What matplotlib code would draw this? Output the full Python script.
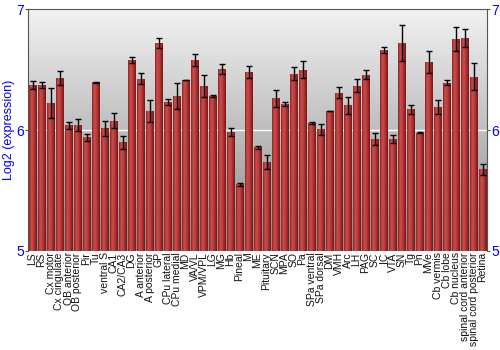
import numpy as np
import matplotlib.pyplot as plt
from matplotlib.colors import LinearSegmentedColormap

plt.rcParams['font.family'] = ['Liberation Sans', 'DejaVu Sans']

regions = ["LS", "RS", "Cx motor", "Cx cingulate", "OB anterior", "OB posterior",
           "Pir", "Tu", "ventral S", "CA1", "CA2/CA3", "DG", "A anterior",
           "A posterior", "GP", "CPu lateral", "CPu medial", "MD", "VA/VL",
           "VPM/VPL", "LG", "MG", "Hb", "Pineal", "M", "ME", "Pituitary", "SCN",
           "MPA", "SO", "Pa", "SPa ventral", "SPa dorsal", "DM", "VMH", "Arc",
           "LH", "PAG", "SC", "IC", "VTA", "SN", "Tg", "Pn", "MVe", "Cb vermis",
           "Cb lobe", "Cb nucleus", "spinal cord anterior",
           "spinal cord posterior", "Retina"]

expr = [6.373, 6.373, 6.221, 6.431, 6.039, 6.039, 5.939, 6.395, 6.014, 6.077,
        5.898, 6.577, 6.423, 6.157, 6.721, 6.229, 6.282, 6.414, 6.580, 6.365,
        6.282, 6.506, 5.981, 5.552, 6.481, 5.856, 5.732, 6.262, 6.215, 6.464,
        6.497, 6.058, 6.006, 6.157, 6.309, 6.204, 6.365, 6.459, 5.925, 6.663,
        5.925, 6.718, 6.171, 5.978, 6.564, 6.190, 6.392, 6.751, 6.762, 6.442,
        5.674]

err = [0.032, 0.022, 0.125, 0.055, 0.030, 0.050, 0.030, 0.004, 0.062, 0.064,
       0.052, 0.026, 0.046, 0.094, 0.044, 0.025, 0.110, 0.003, 0.052, 0.094,
       0.008, 0.039, 0.032, 0.014, 0.050, 0.012, 0.058, 0.073, 0.014, 0.054,
       0.070, 0.012, 0.046, 0.003, 0.043, 0.070, 0.054, 0.041, 0.050, 0.022,
       0.036, 0.150, 0.035, 0.004, 0.091, 0.055, 0.018, 0.097, 0.077, 0.115,
       0.047]

fig = plt.figure(figsize=(5, 3.5), dpi=100)
ax = fig.add_axes([0.056, 0.283, 0.918, 0.691])

x = np.arange(len(regions))
ax.set_xlim(-0.5, len(regions) - 0.5)
ax.set_ylim(5, 7)

# gray gradient background
bg = LinearSegmentedColormap.from_list("bg", ["#8a8a8a", "#f2f2f2"])
ax.imshow(np.linspace(0, 1, 256)[:, None], cmap=bg, aspect="auto",
          extent=(-0.5, len(regions) - 0.5, 5, 7), origin="lower", zorder=0)
ax.axhline(6, color="white", lw=1, zorder=1)

# red cylinder-ish bars
red = LinearSegmentedColormap.from_list(
    "red", ["#8a2222", "#c94a4a", "#c04444", "#a02a2a", "#7a1616"])
shade = np.linspace(0, 1, 64)[None, :]
bars = ax.bar(x, np.array(expr) - 5, bottom=5, width=0.88, color="#b03030",
              edgecolor="none", zorder=2)
for b in bars:
    im = ax.imshow(shade, cmap=red, aspect="auto", zorder=2.5,
                   extent=(b.get_x(), b.get_x() + b.get_width(), 5, 5 + b.get_height()))
    im.set_clip_path(b)

ax.errorbar(x, expr, yerr=err, fmt="none", ecolor="black", elinewidth=1,
            capsize=2, capthick=1, zorder=3)

ax.set_xticks(x)
ax.set_xticklabels(regions, rotation=90, fontsize=7.5, color="#111111")
ax.tick_params(axis="x", length=0, pad=1)
ax.set_yticks([5, 6, 7])
ax.tick_params(axis="y", colors="#555555", labelcolor="blue", labelsize=10,
               length=2, pad=1, right=True, labelright=True)
ax.set_ylabel("Log2 (expression)", color="blue", fontsize=9, labelpad=1)

for s in ["left", "top", "right"]:
    ax.spines[s].set_color("#555555")
ax.spines["bottom"].set_visible(False)

fig.savefig("out.png", dpi=100)
